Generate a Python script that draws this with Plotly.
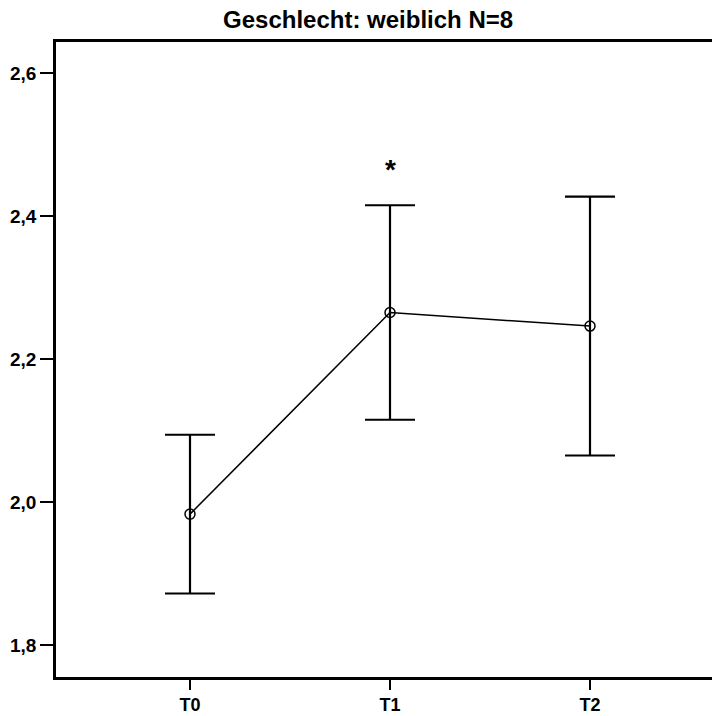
import plotly.graph_objects as go

# Mean scores per time point with error bar half-widths
time_points = ["T0", "T1", "T2"]
means = [1.983, 2.265, 2.246]
errors = [0.111, 0.150, 0.181]
y_tick_values = [1.8, 2.0, 2.2, 2.4, 2.6]
significance_marks = ["", "*", ""]

FONT = "Liberation Sans, Arial, sans-serif"
x_pos = list(range(len(time_points)))

fig = go.Figure()
fig.add_trace(go.Scatter(
    x=x_pos,
    y=means,
    mode="lines+markers",
    line=dict(color="black", width=1.5),
    marker=dict(symbol="circle-open", size=10, color="black",
                line=dict(width=1.5, color="black")),
    error_y=dict(type="data", array=errors, visible=True,
                 color="black", thickness=2.2, width=25),
    showlegend=False,
))

# Significance marker above the upper error bar
for xi, m, e, s in zip(x_pos, means, errors, significance_marks):
    if s:
        fig.add_annotation(x=xi, y=m + e + 0.05, text=s, showarrow=False,
                           font=dict(family=FONT, size=28, color="black", weight="bold"))

fig.update_layout(
    width=712, height=716,
    margin=dict(l=56, r=0, t=42, b=39),
    paper_bgcolor="white", plot_bgcolor="white",
    separators=",.",
    title=dict(text="Geschlecht: weiblich N=8", x=0.517, xanchor="center",
               y=0.973, yanchor="middle",
               font=dict(family=FONT, size=24, color="black", weight="bold")),
    font=dict(family=FONT, color="black"),
)
fig.update_xaxes(
    range=[-0.67, 2.61],
    tickmode="array", tickvals=x_pos, ticktext=time_points,
    showline=True, linecolor="black", linewidth=2.5, mirror=True,
    ticks="outside", ticklen=10, tickwidth=1.5, tickcolor="black",
    showgrid=False, zeroline=False,
    tickfont=dict(family=FONT, size=18, color="black", weight="bold"),
)
fig.update_yaxes(
    range=[1.7552, 2.6433],
    tickmode="array", tickvals=y_tick_values, tickformat=".1f",
    showline=True, linecolor="black", linewidth=2.5,
    ticks="outside", ticklen=13, tickwidth=1.5, tickcolor="black",
    showgrid=False, zeroline=False, ticklabelstandoff=0,
    tickfont=dict(family=FONT, size=19, color="black", weight="bold"),
)

fig.write_html("out.html")
